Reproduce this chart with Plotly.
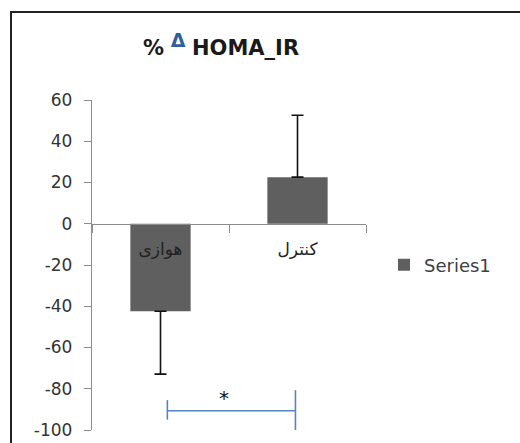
import plotly.graph_objects as go

categories = ["هوازی", "کنترل"]
values = [-42.4, 22.6]
err_plus = [0, 30]
err_minus = [30.5, 0]
series_name = "Series1"
y_ticks = [-100, -80, -60, -40, -20, 0, 20, 40, 60]
y_tick_labels = ["-100", "-80", "-60", "-40", "-20", "0", "20", "40", "60"]

W, H = 520, 443
L, R, T, B = 92, 154, 100, 13
PW, PH = W - L - R, H - T - B


def px2paper_x(px):
    return (px - L) / PW


def px2paper_y(py):
    return (H - B - py) / PH


fig = go.Figure()
fig.add_trace(go.Bar(
    x=categories, y=values, name=series_name,
    marker=dict(color="#5f5f5f", line=dict(width=0)),
    width=0.44,
    error_y=dict(type="data", symmetric=False, array=err_plus, arrayminus=err_minus,
                 color="#111111", thickness=1.6, width=6),
    showlegend=True,
))

# significance bracket
blue = "#5584c4"
fig.add_shape(type="line", xref="x", yref="y", x0=0.05, x1=0.985, y0=-90.7, y1=-90.7,
              line=dict(color=blue, width=1.6))
fig.add_shape(type="line", xref="x", yref="y", x0=0.05, x1=0.05, y0=-85.5, y1=-95,
              line=dict(color=blue, width=1.6))
fig.add_shape(type="line", xref="x", yref="y", x0=0.985, x1=0.985, y0=-80.7, y1=-100,
              line=dict(color=blue, width=1.6))
fig.add_annotation(x=0.46, y=-84.5, xref="x", yref="y", text="*", showarrow=False,
                   font=dict(family="DejaVu Sans", size=20, color="#111111"))

# outer border (left and top edges)
fig.add_shape(type="line", xref="paper", yref="paper",
              x0=px2paper_x(11), x1=px2paper_x(11), y0=px2paper_y(445), y1=px2paper_y(12),
              line=dict(color="#222222", width=2))
fig.add_shape(type="line", xref="paper", yref="paper",
              x0=px2paper_x(10), x1=px2paper_x(522), y0=px2paper_y(12), y1=px2paper_y(12),
              line=dict(color="#222222", width=2))

fig.update_layout(
    width=W, height=H,
    margin=dict(l=L, r=R, t=T, b=B, autoexpand=False),
    paper_bgcolor="white", plot_bgcolor="white",
    title=dict(
        text="<b>%</b> <sup><b><span style='font-size:19px;color:#2f5f9e'>Δ</span></b></sup> <b>HOMA_IR</b>",
        xref="container", yref="container", x=221 / W, y=1 - 48 / H,
        xanchor="center", yanchor="middle", automargin=False,
        font=dict(family="DejaVu Sans", size=21, color="#1a1a1a"),
    ),
    showlegend=True,
    legend=dict(x=px2paper_x(384), y=0.5, xanchor="left", yanchor="middle",
                font=dict(family="DejaVu Sans", size=18, color="#404040"),
                bgcolor="rgba(0,0,0,0)"),
    xaxis=dict(
        range=[-0.5, 1.5], anchor="free", position=100 / 160, automargin=False,
        showline=True, linecolor="#8c8c8c", linewidth=1.3,
        ticks="outside", tickson="boundaries", ticklen=8, tickcolor="#8c8c8c", tickwidth=1.3,
        showgrid=False, zeroline=False,
        tickfont=dict(family="DejaVu Sans", size=17, color="#222222"),
        ticklabelstandoff=10,
    ),
    yaxis=dict(
        range=[-100, 60], tickvals=y_ticks, ticktext=y_tick_labels, automargin=False,
        showline=True, linecolor="#8c8c8c", linewidth=1.3,
        ticks="outside", ticklen=7, tickcolor="#8c8c8c", tickwidth=1.3,
        showgrid=False, zeroline=False,
        tickfont=dict(family="DejaVu Sans", size=17, color="#333333"),
        ticklabelstandoff=8,
    ),
)

fig.write_html("out.html", config={"displayModeBar": False},
               post_script="document.body.style.margin='0';document.body.style.overflow='hidden';")
